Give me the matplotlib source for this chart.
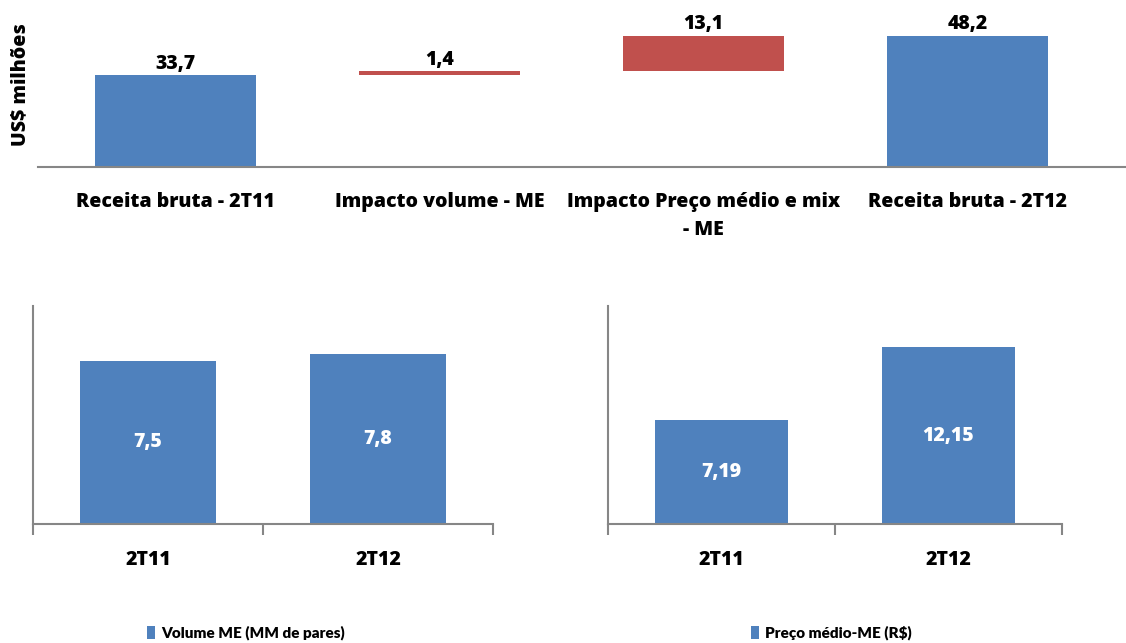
import numpy as np
import matplotlib
matplotlib.use('Agg')
import matplotlib.pyplot as plt

plt.rcParams['font.family'] = ['Open Sans', 'DejaVu Sans']
plt.rcParams['font.weight'] = 'heavy'

# dados - ponte da receita (US$ milhões)
cats_top = ['Receita bruta - 2T11', 'Impacto volume - ME',
            'Impacto Preço médio e mix\n- ME', 'Receita bruta - 2T12']
vals_top = [33.7, 1.4, 13.1, 48.2]
is_total = [True, False, False, True]

# dados - gráficos de baixo
quarters = ['2T11', '2T12']
volume = [7.5, 7.8]
preco = [7.19, 12.15]

BLUE = '#4F81BD'
RED = '#C0504D'
GREY = '#868686'
W, H = 1126, 643
FS = 14
FW = 'heavy'


def px_axes(fig, left, top, right, bottom):
    # posições em pixels -> fração da figura
    return fig.add_axes([left / W, 1 - bottom / H, (right - left) / W, (bottom - top) / H])


fig = plt.figure(figsize=(W / 100, H / 100), dpi=100)

# ---- gráfico de cima (cascata) ----
ax = px_axes(fig, 38, 17, 1126, 167)
bottoms = []
running = 0
for v, tot in zip(vals_top, is_total):
    if tot:
        bottoms.append(0)
        running = v
    else:
        bottoms.append(running)
        running += v
colors = [BLUE if t else RED for t in is_total]
x = np.arange(len(cats_top))
ax.bar(x, vals_top, bottom=bottoms, width=0.61, color=colors)
for xi, v, b in zip(x, vals_top, bottoms):
    ax.text(xi, b + v + 0.5, f'{v:.1f}'.replace('.', ','), ha='center', va='bottom',
            fontsize=FS, fontweight=FW)
ax.set_xlim(-0.52, 3.6)
ax.set_ylim(0, 55)
ax.set_xticks(x)
ax.set_xticklabels(cats_top, fontsize=FS, fontweight=FW, linespacing=1.55)
ax.tick_params(axis='x', length=0, pad=18)
ax.set_yticks([])
for s in ['top', 'right', 'left']:
    ax.spines[s].set_visible(False)
ax.spines['bottom'].set_color(GREY)
ax.spines['bottom'].set_linewidth(1.5)
ax.set_ylabel('US$ milhões', fontsize=FS, fontweight=FW)
ax.yaxis.set_label_coords(-0.007, 0.55)


# ---- gráficos de baixo ----
def small_chart(ax, vals, ymax, fmt, label):
    xx = np.arange(len(vals))
    ax.bar(xx, vals, width=0.587, color=BLUE, label=label)
    for xi, v in zip(xx, vals):
        ax.text(xi, v / 2, fmt.format(v).replace('.', ','), ha='center', va='center',
                color='white', fontsize=FS, fontweight=FW)
    ax.set_xlim(-0.5, len(vals) - 0.5)
    ax.set_ylim(0, ymax)
    ax.set_yticks([])
    ax.set_xticks(xx)
    ax.set_xticklabels(quarters, fontsize=FS, fontweight=FW)
    ax.tick_params(axis='x', length=0, pad=19)
    ax.set_xticks(np.arange(len(vals) + 1) - 0.5, minor=True)
    ax.tick_params(axis='x', which='minor', length=8, width=1.5, color=GREY)
    for s in ['top', 'right']:
        ax.spines[s].set_visible(False)
    for s in ['left', 'bottom']:
        ax.spines[s].set_color(GREY)
        ax.spines[s].set_linewidth(1.5)


ax1 = px_axes(fig, 33, 306, 493, 524)
small_chart(ax1, volume, 10, '{:.1f}', 'Volume ME (MM de pares)')
ax2 = px_axes(fig, 608, 306, 1062, 524)
small_chart(ax2, preco, 15, '{:.2f}', 'Preço médio-ME (R$)')

for a, lx in [(ax1, 147), (ax2, 751)]:
    a.legend(loc='center left', bbox_to_anchor=(lx / W, 1 - 633 / H),
             bbox_transform=fig.transFigure, frameon=False, handlelength=0.55,
             handleheight=1.0, handletextpad=0.35, borderpad=0, borderaxespad=0,
             prop={'family': ['Lato', 'DejaVu Sans'], 'size': 11, 'weight': 'heavy'})

fig.savefig('out.png', dpi=100)
